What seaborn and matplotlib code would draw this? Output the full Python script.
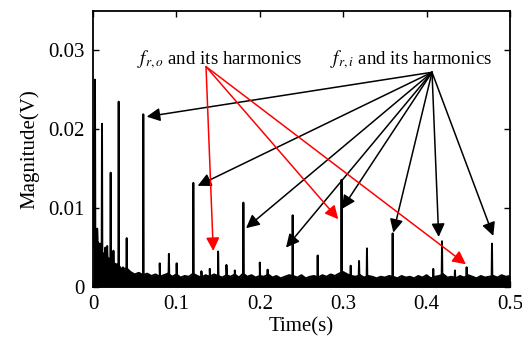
import numpy as np
import pandas as pd
import matplotlib
matplotlib.use("Agg")
import matplotlib.pyplot as plt
import seaborn as sns

# ---------------- data ----------------
floor_y = [0.0050, 0.0060, 0.0045, 0.0040, 0.0035, 0.0030, 0.0028, 0.0022, 0.0024, 0.0019,
           0.0016, 0.0018, 0.0015, 0.0017, 0.0014, 0.0016, 0.0013, 0.0015, 0.0017, 0.0013,
           0.0016, 0.0012, 0.0014, 0.0013, 0.0017, 0.0014, 0.0012, 0.0015, 0.0013, 0.0016,
           0.0014, 0.0012, 0.0015, 0.0013, 0.0016, 0.0012, 0.0017, 0.0013, 0.0015, 0.0012,
           0.0014, 0.0013, 0.0016, 0.0012, 0.0014, 0.0011, 0.0013, 0.0015, 0.0014, 0.0012,
           0.0015, 0.0011, 0.0013, 0.0014, 0.0012, 0.0015, 0.0013, 0.0016, 0.0014, 0.0017,
           0.0019, 0.0016, 0.0014, 0.0013, 0.0015, 0.0012, 0.0014, 0.0013, 0.0011, 0.0013,
           0.0012, 0.0014, 0.0013, 0.0011, 0.0014, 0.0012, 0.0013, 0.0011, 0.0014, 0.0012,
           0.0015, 0.0011, 0.0013, 0.0014, 0.0016, 0.0012, 0.0013, 0.0011, 0.0014, 0.0012,
           0.0015, 0.0013, 0.0011, 0.0014, 0.0012, 0.0013, 0.0014, 0.0012, 0.0015, 0.0013,
           0.0014]

spike_x = [0.0, 0.0024, 0.005, 0.0085, 0.0108, 0.0148, 0.017, 0.0212, 0.0245, 0.0308,
           0.036, 0.0404, 0.0603, 0.080, 0.091, 0.1003, 0.1203, 0.130, 0.140, 0.150,
           0.160, 0.170, 0.1803, 0.200, 0.2094, 0.2394, 0.2694, 0.298, 0.309, 0.319,
           0.3285, 0.3593, 0.408, 0.4185, 0.434, 0.448, 0.4784]
spike_y = [0.0195, 0.0263, 0.0074, 0.0055, 0.0207, 0.0050, 0.0052, 0.0145, 0.0046, 0.0235,
           0.0025, 0.0062, 0.0219, 0.0030, 0.0042, 0.0030, 0.0132, 0.0020, 0.0023, 0.0045,
           0.0028, 0.0021, 0.0107, 0.0031, 0.0022, 0.0091, 0.0040, 0.0136, 0.0027, 0.0033,
           0.0049, 0.0068, 0.0023, 0.0058, 0.0021, 0.0025, 0.0055]

label_o = r"$f_{r,o}$ and its harmonics"
label_i = r"$f_{r,i}$ and its harmonics"
text_o_pos = (0.0528, 0.0282)
text_i_pos = (0.2842, 0.0282)
src_o = (0.1355, 0.02795)
src_i = (0.4065, 0.02723)
tips_o = [(0.1442, 0.00457), (0.2941, 0.0086), (0.4472, 0.00288)]
tips_i = [(0.0644, 0.0216), (0.1255, 0.01283), (0.1835, 0.00746), (0.2314, 0.00499),
          (0.2986, 0.00991), (0.3601, 0.0069), (0.4145, 0.00635), (0.4800, 0.00648)]

xticks = [0, 0.1, 0.2, 0.3, 0.4, 0.5]
xticklabels = ["0", "0.1", "0.2", "0.3", "0.4", "0.5"]
yticks = [0, 0.01, 0.02, 0.03]
yticklabels = ["0", "0.01", "0.02", "0.03"]

# ---------------- build spectrum ----------------
floor_x = np.linspace(0, 0.5, len(floor_y))
eps = 0.0004
xs, ys = list(floor_x), list(floor_y)
for sx, sy in zip(spike_x, spike_y):
    for dx in (-eps, eps):
        xx = min(max(sx + dx, 0.0), 0.5)
        xs.append(xx)
        ys.append(float(np.interp(xx, floor_x, floor_y)))
    xs.append(sx)
    ys.append(sy)
df = pd.DataFrame({"f": xs, "mag": ys}).sort_values("f", kind="mergesort").reset_index(drop=True)

# ---------------- plot ----------------
sns.set_style("ticks")
plt.rcParams["font.family"] = ["Liberation Serif", "DejaVu Serif"]
plt.rcParams["mathtext.fontset"] = "stix"
plt.rcParams["text.color"] = "black"
plt.rcParams["axes.labelcolor"] = "black"

fig = plt.figure(figsize=(5.22, 3.49), dpi=100)
ax = fig.add_axes([93 / 522, 1 - 287 / 349, (510 - 93) / 522, (287 - 11) / 349])

sns.lineplot(data=df, x="f", y="mag", ax=ax, color="black", lw=1.4,
             estimator=None, sort=False)
ax.fill_between(df["f"], 0, df["mag"], color="black", lw=0)

ax.set_xlim(0, 0.5)
ax.set_ylim(0, 0.035)
ax.set_xticks(xticks)
ax.set_xticklabels(xticklabels)
ax.set_yticks(yticks)
ax.set_yticklabels(yticklabels)
ax.tick_params(direction="in", length=4, width=1, labelsize=15, top=True, right=True,
               pad=6, colors="black")
for s in ax.spines.values():
    s.set_linewidth(1.3)
    s.set_color("black")
ax.set_xlabel("Time(s)", fontsize=15, labelpad=2, color="black")
ax.set_ylabel("Magnitude(V)", fontsize=15, labelpad=6, color="black")

ax.text(*text_o_pos, label_o, fontsize=13.6, ha="left", va="baseline", color="black")
ax.text(*text_i_pos, label_i, fontsize=13.6, ha="left", va="baseline", color="black")

for t in tips_i:
    ax.annotate("", xy=t, xytext=src_i,
                arrowprops=dict(arrowstyle="-|>", color="black", lw=1.1,
                                mutation_scale=20, shrinkA=0, shrinkB=0))
for t in tips_o:
    ax.annotate("", xy=t, xytext=src_o,
                arrowprops=dict(arrowstyle="-|>", color="#ff0000", lw=1.1,
                                mutation_scale=20, shrinkA=0, shrinkB=0))

fig.savefig("out.png", dpi=100)
